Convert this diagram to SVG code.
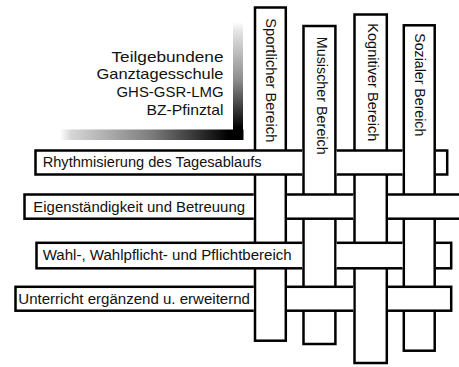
<svg xmlns="http://www.w3.org/2000/svg" width="459" height="367" viewBox="0 0 459 367">
  <style>
    .bar { fill: #fff; stroke: #000; stroke-width: 2.5; }
    .lbl { font-family: "Liberation Sans", Arial, sans-serif; font-size: 14px; fill: #111; }
    .vlbl { font-family: "Liberation Sans", Arial, sans-serif; font-size: 14.5px; fill: #111; }
    .title { font-family: "Liberation Sans", Arial, sans-serif; font-size: 15px; fill: #111; text-anchor: end; }
  </style>
  <defs>
    <linearGradient id="gv" x1="0" y1="0" x2="0" y2="1">
      <stop offset="0" stop-color="#ffffff"/>
      <stop offset="0.08" stop-color="#e4e4e4"/>
      <stop offset="0.5" stop-color="#8a8a8a"/>
      <stop offset="0.9" stop-color="#000000"/>
      <stop offset="1" stop-color="#000000"/>
    </linearGradient>
    <linearGradient id="gh" x1="0" y1="0" x2="1" y2="0">
      <stop offset="0" stop-color="#ffffff"/>
      <stop offset="0.06" stop-color="#d6d6d6"/>
      <stop offset="0.5" stop-color="#7c7c7c"/>
      <stop offset="0.92" stop-color="#000000"/>
      <stop offset="1" stop-color="#000000"/>
    </linearGradient>
    <clipPath id="clip-odd" clipPathUnits="userSpaceOnUse">
      <path clip-rule="evenodd" d="M0,0H470V367H0Z M302.25,0H336.65V367H302.25Z M402.55,0H435.95V367H402.55Z"/>
    </clipPath>
    <clipPath id="clip-even" clipPathUnits="userSpaceOnUse">
      <path clip-rule="evenodd" d="M0,0H470V367H0Z M253.75,0H287.05V367H253.75Z M353.25,0H388.05V367H353.25Z"/>
    </clipPath>
  </defs>
  <rect x="0" y="0" width="459" height="367" fill="#fff"/>

  <g id="title-shadow">
    <rect x="233" y="22" width="10" height="118" fill="url(#gv)"/>
    <rect x="60" y="129.5" width="183.5" height="10.5" fill="url(#gh)"/>
  </g>
  <g id="title">
    <text class="title" x="223.5" y="61.5" textLength="112" lengthAdjust="spacingAndGlyphs">Teilgebundene</text>
    <text class="title" x="223.5" y="79.3" textLength="127" lengthAdjust="spacingAndGlyphs">Ganztagesschule</text>
    <text class="title" x="223.5" y="97" textLength="107" lengthAdjust="spacingAndGlyphs">GHS-GSR-LMG</text>
    <text class="title" x="223.5" y="114.7" textLength="77" lengthAdjust="spacingAndGlyphs">BZ-Pfinztal</text>
  </g>

  <g id="sportlicher-bereich">
    <rect class="bar" x="255" y="7.5" width="30.8" height="333.2"/>
    <text class="vlbl" transform="translate(266,18.3) rotate(90)" textLength="124" lengthAdjust="spacingAndGlyphs">Sportlicher Bereich</text>
  </g>
  <g id="musischer-bereich">
    <rect class="bar" x="303.5" y="26" width="31.9" height="318"/>
    <text class="vlbl" transform="translate(317,36.7) rotate(90)" textLength="118" lengthAdjust="spacingAndGlyphs">Musischer Bereich</text>
  </g>
  <g id="kognitiver-bereich">
    <rect class="bar" x="354.5" y="14.5" width="32.3" height="348.5"/>
    <text class="vlbl" transform="translate(367.5,23.3) rotate(90)" textLength="118" lengthAdjust="spacingAndGlyphs">Kognitiver Bereich</text>
  </g>
  <g id="sozialer-bereich">
    <rect class="bar" x="403.8" y="25.3" width="30.9" height="325.4"/>
    <text class="vlbl" transform="translate(415,33.3) rotate(90)" textLength="103" lengthAdjust="spacingAndGlyphs">Sozialer Bereich</text>
  </g>

  <g id="rhythmisierung" clip-path="url(#clip-odd)">
    <rect class="bar" x="35.5" y="150.5" width="411.7" height="24"/>
    <text class="lbl" x="42.7" y="167.3" textLength="219" lengthAdjust="spacingAndGlyphs">Rhythmisierung des Tagesablaufs</text>
  </g>
  <g id="eigenstaendigkeit" clip-path="url(#clip-even)">
    <rect class="bar" x="24.5" y="194.5" width="440" height="24.2"/>
    <text class="lbl" x="33.3" y="211.6" textLength="211.7" lengthAdjust="spacingAndGlyphs">Eigenständigkeit und Betreuung</text>
  </g>
  <g id="wahlbereich" clip-path="url(#clip-odd)">
    <rect class="bar" x="36.5" y="242.8" width="414.7" height="25.5"/>
    <text class="lbl" x="42.7" y="260.4" textLength="249" lengthAdjust="spacingAndGlyphs">Wahl-, Wahlpflicht- und Pflichtbereich</text>
  </g>
  <g id="unterricht" clip-path="url(#clip-even)">
    <rect class="bar" x="15.5" y="286.8" width="435.7" height="23.9"/>
    <text class="lbl" x="18.3" y="303.6" textLength="231.7" lengthAdjust="spacingAndGlyphs">Unterricht ergänzend u. erweiternd</text>
  </g>
</svg>
